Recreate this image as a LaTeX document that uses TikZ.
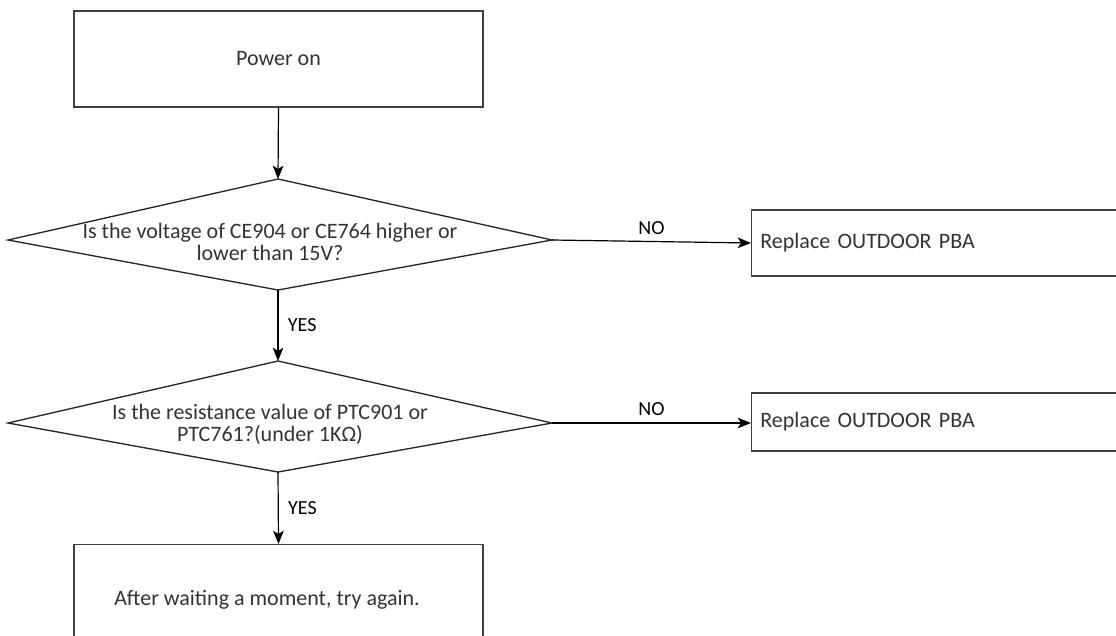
\documentclass[tikz,border=0pt]{standalone}
\usepackage{fontspec}
\setmainfont{Carlito}
\usetikzlibrary{arrows.meta}

\begin{document}
\begin{tikzpicture}[
    x=0.75pt, y=-0.75pt,
    % Style for the plain step boxes
    stepbox/.style={rectangle, draw=black!75, line width=1pt, text=black!80,
        font=\fontsize{16.5}{16}\selectfont},
    % Style for the question text inside the kites
    qtext/.style={align=center, text=black!80, inner sep=0pt,
        font=\fontsize{16.5}{16.5}\selectfont},
    % Style for the YES / NO labels
    lbl/.style={font=\fontsize{15}{15}\selectfont, inner sep=0pt},
    % Style for the flow arrows
    flow/.style={-{Stealth[length=10pt, width=8pt, inset=2.5pt]}, line width=0.9pt}
]

\clip (0,0) rectangle (1116,635);

% ==========================
% Start
% ==========================
\node[stepbox, minimum width=306.75pt, minimum height=72pt] (power) at (278.5,59) {Power on};

% ==========================
% First check
% ==========================
\coordinate (q1top) at (278,179);
\coordinate (q1left) at (8,240);
\coordinate (q1tip) at (552,240);
\coordinate (q1bot) at (278,290);
\draw[draw=black!85, line width=1pt] (q1top) -- (q1tip) -- (q1bot) -- (q1left) -- cycle;
\node[qtext] (q1) at (270,242) {Is the voltage of CE904 or CE764 higher or\\lower than 15V?};

\node[stepbox, anchor=west, minimum height=49.5pt, text width=280pt, align=left,
    inner xsep=6.5pt] (rep1) at (751,243) {Replace OUTDOOR PBA};

% ==========================
% Second check
% ==========================
\coordinate (q2top) at (278,361);
\coordinate (q2left) at (8,423);
\coordinate (q2tip) at (552,423);
\coordinate (q2bot) at (278,472);
\draw[draw=black!85, line width=1pt] (q2top) -- (q2tip) -- (q2bot) -- (q2left) -- cycle;
\node[qtext] (q2) at (270,424) {Is the resistance value of PTC901 or\\PTC761?(under 1K\symbol{"03A9})};

\node[stepbox, anchor=west, minimum height=43.5pt, text width=280pt, align=left,
    inner xsep=6.5pt] (rep2) at (751,422) {Replace OUTDOOR PBA};

% ==========================
% End
% ==========================
\node[stepbox, anchor=north, minimum width=306.75pt, minimum height=120pt] (wait) at (278.5,544) {};
\node[text=black!80, font=\fontsize{16.5}{16}\selectfont] (waittxt) at (267,600) {After waiting a moment, try again.};

% Arrows
\draw[flow] (power.south) -- (q1top);
\draw[flow] (q1bot) -- node[lbl, right=7pt] (yes1) {YES} (q2top);
\draw[flow] (q2bot) -- node[lbl, right=7pt] (yes2) {YES} (wait.north);
\draw[flow] (q1tip) -- node[lbl, above=5pt] (no1) {NO} (rep1.west);
\draw[flow] (q2tip) -- node[lbl, above=5pt] (no2) {NO} (rep1.west |- q2tip);

\end{tikzpicture}
\end{document}
